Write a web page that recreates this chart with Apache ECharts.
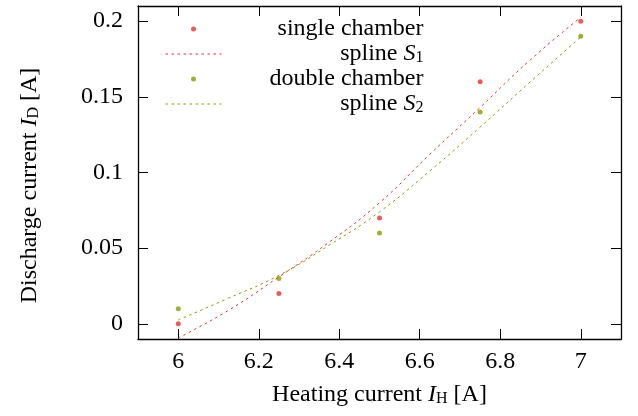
<!DOCTYPE html>
<html>
<head>
<meta charset="utf-8">
<script src="https://cdn.jsdelivr.net/npm/echarts@6/dist/echarts.min.js"></script>
<style>
html, body { margin: 0; padding: 0; background: #fff; }
#main { width: 638px; height: 416px; }
</style>
</head>
<body>
<div id="main"></div>
<script>
// measured points
var heating = [6, 6.25, 6.5, 6.75, 7];
var singleCh = [0, 0.02, 0.07, 0.16, 0.2];
var doubleCh = [0.01, 0.03, 0.06, 0.14, 0.19];
// splines
var splineX = [6, 6.125, 6.25, 6.375, 6.5, 6.625, 6.75, 6.875, 7];
var spline1 = [-0.0093, 0.009, 0.031, 0.054, 0.080, 0.112, 0.143, 0.1745, 0.2025];
var spline2 = [0.0026, 0.017, 0.032, 0.052, 0.074, 0.101, 0.130, 0.160, 0.1895];
// ticks
var xTicks = [6, 6.2, 6.4, 6.6, 6.8, 7];
var yTicks = [0, 0.05, 0.1, 0.15, 0.2];

var FONT = 'Liberation Serif';
var RED = '#e5332f';
var OLIVE = '#8a9c00';
var DASH = [2.5, 3.5];

function zip(xs, ys) {
    var out = [];
    for (var i = 0; i < xs.length; i++) {
        out.push([xs[i], ys[i]]);
    }
    return out;
}

var rich = {
    t: {fontFamily: FONT, fontSize: 24, lineHeight: 24, color: '#000', align: 'right'},
    i: {fontFamily: FONT, fontSize: 24, lineHeight: 24, fontStyle: 'italic', color: '#000', align: 'right'},
    b: {fontFamily: FONT, fontSize: 16, lineHeight: 12, verticalAlign: 'bottom', color: '#000', align: 'right'}
};

var frame = {lineStyle: {color: '#000', width: 1.3}, onZero: false};
var tickX = {inside: true, length: 10, customValues: xTicks, lineStyle: {color: '#000', width: 1}};
var tickY = {inside: true, length: 10, customValues: yTicks, lineStyle: {color: '#000', width: 1}};

var chart = echarts.init(document.getElementById('main'));
var option = {
    animation: false,
    backgroundColor: '#fff',
    grid: {left: 138, right: 17, top: 6, bottom: 77},
    legend: {
        orient: 'vertical',
        left: 160,
        top: 12,
        itemWidth: 56,
        itemHeight: 5,
        itemGap: 1,
        selectedMode: false,
        textStyle: {width: 197, fontFamily: FONT, fontSize: 24, rich: rich},
        formatter: function (name) {
            if (name === 'spline S1') return '{t|spline }{i|S}{b|1}';
            if (name === 'spline S2') return '{t|spline }{i|S}{b|2}';
            return '{t|' + name + '}';
        },
        data: [
            {name: 'single chamber'},
            {name: 'spline S1', itemStyle: {opacity: 0}, lineStyle: {type: DASH, width: 1, color: RED}},
            {name: 'double chamber'},
            {name: 'spline S2', itemStyle: {opacity: 0}, lineStyle: {type: DASH, width: 1, color: OLIVE}}
        ]
    },
    xAxis: [
        {
            type: 'value', min: 5.9, max: 7.1, position: 'bottom',
            axisLine: frame,
            axisTick: tickX,
            axisLabel: {customValues: xTicks, margin: 11, fontFamily: FONT, fontSize: 24, color: '#000'},
            splitLine: {show: false},
            name: '{t|Heating current }{i|I}{b|H}{t| [A]}',
            nameLocation: 'middle',
            nameGap: 44,
            nameTextStyle: {rich: rich}
        },
        {
            type: 'value', min: 5.9, max: 7.1, position: 'top',
            axisLine: frame,
            axisTick: tickX,
            axisLabel: {show: false},
            splitLine: {show: false}
        }
    ],
    yAxis: [
        {
            type: 'value', min: -0.01, max: 0.21, position: 'left',
            axisLine: frame,
            axisTick: tickY,
            axisLabel: {customValues: yTicks, margin: 15, fontFamily: FONT, fontSize: 24, color: '#000'},
            splitLine: {show: false},
            name: '{t|Discharge current }{i|I}{b|D}{t| [A]}',
            nameLocation: 'middle',
            nameRotate: 90,
            nameGap: 96,
            nameTextStyle: {rich: rich, padding: [0, 26, 0, 0]}
        },
        {
            type: 'value', min: -0.01, max: 0.21, position: 'right',
            axisLine: frame,
            axisTick: tickY,
            axisLabel: {show: false},
            splitLine: {show: false}
        }
    ],
    series: [
        {
            name: 'spline S1', type: 'line', smooth: true, symbol: 'none',
            data: zip(splineX, spline1),
            lineStyle: {color: RED, width: 1, type: DASH},
            itemStyle: {color: RED}
        },
        {
            name: 'spline S2', type: 'line', smooth: true, symbol: 'none',
            data: zip(splineX, spline2),
            lineStyle: {color: OLIVE, width: 1, type: DASH},
            itemStyle: {color: OLIVE}
        },
        {
            name: 'single chamber', type: 'scatter', symbol: 'circle', symbolSize: 5,
            data: zip(heating, singleCh),
            itemStyle: {color: RED}
        },
        {
            name: 'double chamber', type: 'scatter', symbol: 'circle', symbolSize: 5,
            data: zip(heating, doubleCh),
            itemStyle: {color: OLIVE}
        }
    ]
};
chart.setOption(option);
</script>
</body>
</html>
